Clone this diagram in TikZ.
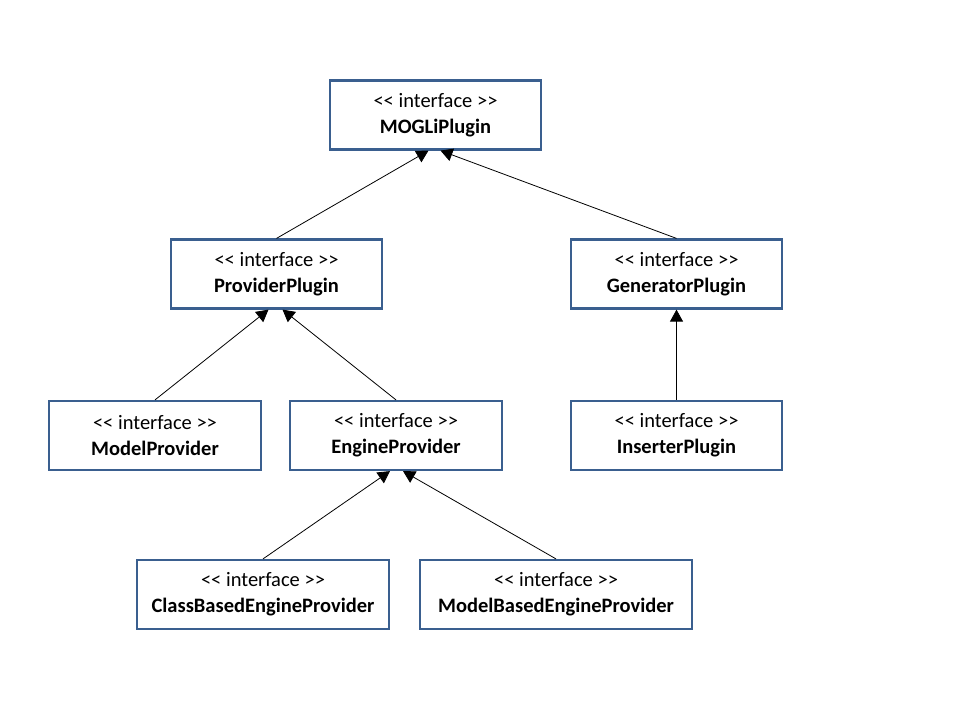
\documentclass[tikz,border=0pt]{standalone}
\usepackage{fontspec}
\setmainfont{Carlito}
\usepackage{tikz}
\usetikzlibrary{arrows.meta}
\definecolor{boxblue}{RGB}{58,95,143}
\tikzstyle{iface} = [rectangle, draw=boxblue, line width=2.2pt, minimum height=69pt, align=center, font=\fontsize{20.5}{26}\selectfont, inner sep=0pt]
\tikzstyle{arrow} = [line width=0.8pt, -{Triangle[length=12pt,width=13pt]}]
\newcommand{\iface}[1]{<{}< interface >{}>\\\textbf{#1}}

\begin{document}
\begin{tikzpicture}[x=1pt, y=-1pt]
        \useasboundingbox (0,0) rectangle (960,720);
        \node (mogli) [iface, minimum width=211pt] at (435.5,115) {\iface{MOGLiPlugin}};
        \node (provider) [iface, minimum width=211pt] at (276.5,274) {\iface{ProviderPlugin}};
        \node (generator) [iface, minimum width=211pt] at (676.5,274) {\iface{GeneratorPlugin}};
        \node (model) [iface, minimum width=212pt] at (155,435.5) {\iface{ModelProvider}};
        \node (engine) [iface, minimum width=212pt] at (396,435.5) {\iface{EngineProvider}};
        \node (inserter) [iface, minimum width=211pt] at (676.5,435.5) {\iface{InserterPlugin}};
        \node (classbased) [iface, minimum width=252pt] at (263,594.5) {\iface{ClassBasedEngineProvider}};
        \node (modelbased) [iface, minimum width=272pt] at (556,594.5) {\iface{ModelBasedEngineProvider}};
        % inheritance
        \draw [arrow] (provider.north) -- ([xshift=-7pt]mogli.south);
        \draw [arrow] (generator.north) -- ([xshift=5pt]mogli.south);
        \draw [arrow] (model.north) -- ([xshift=-8pt]provider.south);
        \draw [arrow] (engine.north) -- ([xshift=6pt]provider.south);
        \draw [arrow] (inserter.north) -- (generator.south);
        \draw [arrow] (classbased.north) -- ([xshift=-6pt]engine.south);
        \draw [arrow] (modelbased.north) -- ([xshift=7pt]engine.south);
    \end{tikzpicture}
\end{document}
